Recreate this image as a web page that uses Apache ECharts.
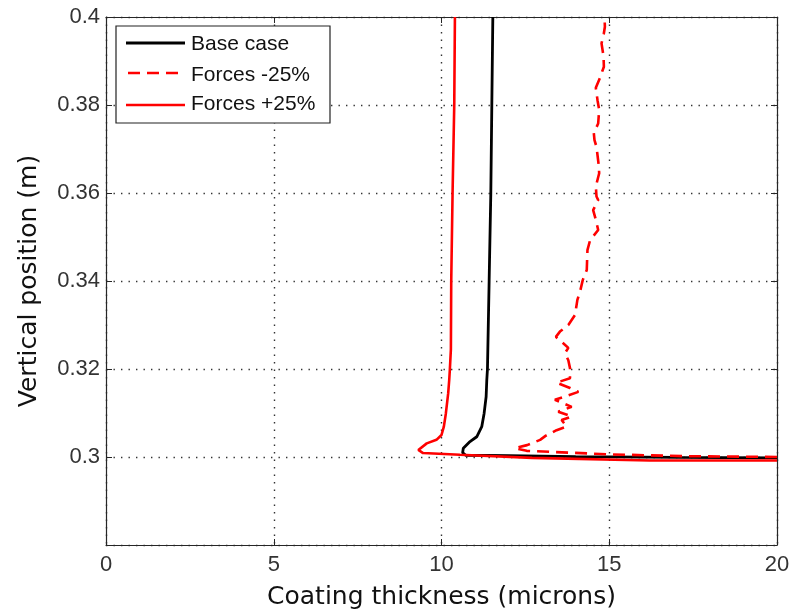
<!DOCTYPE html>
<html>
<head>
<meta charset="utf-8">
<script src="https://cdn.jsdelivr.net/npm/echarts@6/dist/echarts.min.js"></script>
<style>html,body{margin:0;padding:0;background:#fff;}#chart{width:796px;height:609px;}</style>
</head>
<body>
<div id="chart"></div>
<script>
// ---- Data (coating thickness in microns vs vertical position in m) ----
var xTicks = [0, 5, 10, 15, 20];
var yTicks = [0.3, 0.32, 0.34, 0.36, 0.38, 0.4];
var seriesNames = ['Base case', 'Forces -25%', 'Forces +25%'];

var baseThk = [20, 17, 14, 12, 10.72, 10.63, 10.65, 10.85, 11.05, 11.2, 11.27, 11.33, 11.35, 11.37, 11.42, 11.47, 11.5, 11.53];
var basePos = [0.2998, 0.2999, 0.3001, 0.3003, 0.3004, 0.3010, 0.3020, 0.3035, 0.3046, 0.3069, 0.3099, 0.3137, 0.3175, 0.32, 0.34, 0.36, 0.38, 0.4];

var minusThk = [20, 17.2, 15, 12.54, 12.19, 12.55, 12.94, 13.1, 13.43, 13.73, 13.58, 13.88, 13.48, 13.88, 13.38, 14.08, 13.83, 13.43, 13.83, 13.83, 13.78, 13.68, 13.78, 13.58, 13.41, 13.53, 13.78, 13.98, 14.05, 14.13, 14.21, 14.33, 14.35, 14.43, 14.67, 14.6, 14.52, 14.67, 14.62, 14.6, 14.7, 14.68, 14.62, 14.56, 14.54, 14.67, 14.7, 14.65, 14.6, 14.72, 14.84, 14.83, 14.77, 14.84, 14.87, 14.86];
var minusPos = [0.3, 0.3002, 0.3006, 0.3014, 0.3020, 0.3027, 0.3039, 0.3048, 0.3061, 0.3069, 0.3084, 0.3092, 0.3103, 0.3114, 0.3130, 0.3148, 0.3157, 0.3169, 0.3179, 0.3202, 0.3220, 0.3236, 0.3248, 0.3262, 0.3273, 0.3285, 0.3300, 0.3323, 0.3357, 0.3376, 0.3402, 0.3425, 0.3470, 0.3493, 0.3516, 0.3539, 0.3561, 0.3584, 0.3592, 0.3615, 0.3645, 0.3667, 0.3705, 0.3720, 0.3736, 0.3758, 0.3789, 0.3811, 0.3839, 0.3861, 0.3887, 0.3910, 0.3940, 0.3963, 0.3978, 0.4];

var plusThk = [20, 16.2, 12.7, 10.55, 9.45, 9.31, 9.56, 9.85, 10.0, 10.07, 10.13, 10.2, 10.23, 10.25, 10.28, 10.29, 10.33, 10.38, 10.4];
var plusPos = [0.2992, 0.2992, 0.2998, 0.3005, 0.3009, 0.3016, 0.3031, 0.3039, 0.3050, 0.3069, 0.3099, 0.3145, 0.3175, 0.32, 0.3245, 0.34, 0.36, 0.38, 0.4];

function zip(a, b) { return a.map(function (v, i) { return [v, b[i]]; }); }

var axisColor = '#262626';
var gridStyle = { color: '#333', width: 1.4, type: [1.4, 6.1] };
var tickFont = 'Liberation Sans';

var chart = echarts.init(document.getElementById('chart'), null, { renderer: 'canvas' });
var option = {
  animation: false,
  backgroundColor: '#fff',
  grid: { left: 106, top: 17, width: 671, height: 528, containLabel: false, outerBoundsMode: 'none' },
  xAxis: [{
    type: 'value', min: xTicks[0], max: xTicks[xTicks.length - 1], interval: 5,
    position: 'bottom',
    name: 'Coating thickness (microns)', nameLocation: 'middle', nameGap: 40,
    nameTextStyle: { fontFamily: 'DejaVu Sans', fontSize: 25, color: '#111' },
    axisLine: { show: true, onZero: false, lineStyle: { color: axisColor, width: 1.2 } },
    axisTick: { show: true, inside: true, length: 6, lineStyle: { color: axisColor } },
    axisLabel: { margin: 9, fontFamily: tickFont, fontSize: 22, color: '#333' },
    splitLine: { show: true, lineStyle: gridStyle }
  }, {
    type: 'value', min: xTicks[0], max: xTicks[xTicks.length - 1], interval: 5,
    position: 'top',
    axisLine: { show: true, onZero: false, lineStyle: { color: axisColor, width: 1.2 } },
    axisTick: { show: true, inside: true, length: 6, lineStyle: { color: axisColor } },
    axisLabel: { show: false },
    splitLine: { show: false }
  }],
  yAxis: [{
    type: 'value', min: 0.28, max: yTicks[yTicks.length - 1], interval: 0.02,
    position: 'left',
    name: 'Vertical position (m)', nameLocation: 'middle', nameGap: 64, nameRotate: 90,
    nameTextStyle: { fontFamily: 'DejaVu Sans', fontSize: 25, color: '#111' },
    axisLine: { show: true, onZero: false, lineStyle: { color: axisColor, width: 1.2 } },
    axisTick: { show: true, inside: true, length: 6, lineStyle: { color: axisColor } },
    axisLabel: {
      margin: 6, fontFamily: tickFont, fontSize: 22, color: '#333',
      formatter: function (v) {
        for (var i = 0; i < yTicks.length; i++) {
          if (Math.abs(v - yTicks[i]) < 1e-9) return String(yTicks[i]);
        }
        return '';
      }
    },
    splitLine: { show: true, lineStyle: gridStyle }
  }, {
    type: 'value', min: 0.28, max: yTicks[yTicks.length - 1], interval: 0.02,
    position: 'right',
    axisLine: { show: true, onZero: false, lineStyle: { color: axisColor, width: 1.2 } },
    axisTick: { show: true, inside: true, length: 6, lineStyle: { color: axisColor } },
    axisLabel: { show: false },
    splitLine: { show: false }
  }],
  series: [{
    name: seriesNames[0], type: 'line', xAxisIndex: 0, yAxisIndex: 0,
    data: zip(baseThk, basePos), symbol: 'none', clip: true,
    lineStyle: { color: '#000', width: 2.8 }
  }, {
    name: seriesNames[1], type: 'line', xAxisIndex: 0, yAxisIndex: 0,
    data: zip(minusThk, minusPos), symbol: 'none', clip: true,
    lineStyle: { color: '#ff0000', width: 2.6, type: [12, 7] }
  }, {
    name: seriesNames[2], type: 'line', xAxisIndex: 0, yAxisIndex: 0,
    data: zip(plusThk, plusPos), symbol: 'none', clip: true,
    lineStyle: { color: '#ff0000', width: 2.6 }
  }],
  graphic: [
    { type: 'rect', z: 100, shape: { x: 116, y: 26, width: 214, height: 97 },
      style: { fill: '#fff', stroke: '#222', lineWidth: 1.2 } },
    { type: 'line', z: 101, shape: { x1: 126, y1: 43, x2: 185, y2: 43 },
      style: { stroke: '#000', lineWidth: 2.8 } },
    { type: 'line', z: 101, shape: { x1: 128, y1: 73, x2: 185, y2: 73 },
      style: { stroke: '#ff0000', lineWidth: 2.6, lineDash: [12, 7] } },
    { type: 'line', z: 101, shape: { x1: 126, y1: 105, x2: 185, y2: 105 },
      style: { stroke: '#ff0000', lineWidth: 2.6 } },
    { type: 'text', z: 101, left: 191, top: 34,
      style: { text: seriesNames[0], font: '21px "Liberation Sans"', fill: '#111' } },
    { type: 'text', z: 101, left: 191, top: 65,
      style: { text: seriesNames[1], font: '21px "Liberation Sans"', fill: '#111' } },
    { type: 'text', z: 101, left: 191, top: 94,
      style: { text: seriesNames[2], font: '21px "Liberation Sans"', fill: '#111' } }
  ]
};
chart.setOption(option);
</script>
</body>
</html>
